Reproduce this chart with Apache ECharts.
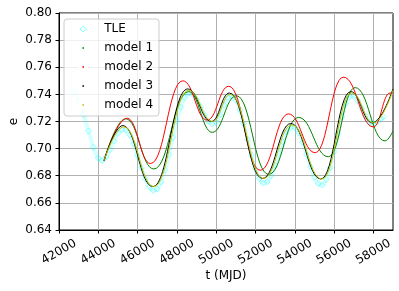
<!DOCTYPE html>
<html><head><meta charset="utf-8">
<script src="https://cdn.jsdelivr.net/npm/echarts@6/dist/echarts.min.js"></script>
<style>html,body{margin:0;padding:0;background:#fff}#c{width:399px;height:291px}</style>
</head><body><div id="c"></div>
<script>
const xTickLabels = [42000, 44000, 46000, 48000, 50000, 52000, 54000, 56000, 58000];
const yTickLabels = [0.64, 0.66, 0.68, 0.70, 0.72, 0.74, 0.76, 0.78, 0.80];

const tleT = [42750,43000,43250,43500,43750,44000,44200,44400,44600,44800,45000,45200,45400,45600,45800,46000,46200,46400,46600,46800,47000,47200,47400,47600,47800,48000,48200,48400,48600,48800,49000,49200,49400,49600,49800,50000,50200,50400,50600,50800,51000,51200,51400,51600,51800,52000,52200,52400,52600,52800,53000,53200,53400,53600,53800,54000,54200,54400,54600,54800,55000,55200,55400,55600,55800,56000,56200,56400,56600,56800,57000,57200,57400,57600,57800,58000,58200,58400,58500];
const tleE = [0.742,0.735,0.725,0.713,0.701,0.693,0.691,0.6938,0.6993,0.7057,0.7112,0.7139,0.7135,0.7100,0.7034,0.6949,0.6858,0.6777,0.6718,0.6691,0.6702,0.6755,0.6844,0.6957,0.7081,0.7202,0.7305,0.7376,0.7409,0.7401,0.7365,0.7310,0.7251,0.7204,0.7181,0.7194,0.7249,0.7321,0.7376,0.7389,0.7356,0.7285,0.7184,0.7068,0.6951,0.6850,0.6779,0.6746,0.6756,0.6802,0.6876,0.6964,0.7050,0.7118,0.7155,0.7155,0.7116,0.7046,0.6957,0.6866,0.6789,0.6741,0.6732,0.6772,0.6858,0.6977,0.7110,0.7235,0.7331,0.7383,0.7386,0.7354,0.7300,0.7241,0.7197,0.7180,0.7195,0.7222,0.7236];

// model curves: start point, then successive peaks / troughs, then end point
const m1T = [44290,45390,46825,48600,49800,51030,52670,54190,55710,57070,58590,59000];
const m1E = [0.691,0.722,0.685,0.742,0.712,0.739,0.681,0.723,0.694,0.745,0.7057,0.713];

const m2T = [44290,45470,46660,48300,49540,50640,52240,53680,55040,56475,58000,58850,59000];
const m2E = [0.691,0.7224,0.689,0.750,0.721,0.746,0.684,0.7256,0.697,0.7527,0.716,0.741,0.741];

const m3T = [44290,45250,46775,48550,49760,50670,52360,53800,55330,56850,57950,59000];
const m3E = [0.691,0.717,0.672,0.744,0.720,0.741,0.678,0.7185,0.6776,0.742,0.719,0.744];

const m4T = [44290,45300,46825,48600,49820,50720,52410,53850,55380,56900,58000,59000];
const m4E = [0.691,0.716,0.672,0.743,0.720,0.740,0.678,0.7175,0.6776,0.741,0.719,0.743];

const zip = (a, b) => a.map((v, i) => [v, b[i]]);
const FONT = 'DejaVu Sans';

const chart = echarts.init(document.getElementById('c'), null, {renderer: 'canvas'});
const modelLine = (name, T, E, color, z) => ({
  name, type: 'line', data: zip(T, E), smooth: 0.45, smoothMonotone: 'x', showSymbol: false, symbol: 'rect', symbolSize: 2,
  legendIcon: 'rect',
  lineStyle: {color, width: 1}, itemStyle: {color}, z, animation: false
});
const dotStyle = c => ({color: c, borderColor: '#ffffff', borderWidth: 4.4, opacity: 1});

chart.setOption({
  animation: false,
  grid: {left: 58, right: 6, top: 13, bottom: 61, show: true, borderColor: '#000', borderWidth: 1, containLabel: false},
  xAxis: {
    type: 'value', min: 42000, max: 59000, interval: 2000,
    name: 't (MJD)', nameLocation: 'middle', nameGap: 40, nameMoveOverlap: false,
    nameTextStyle: {fontFamily: FONT, fontSize: 12, color: '#000'},
    axisLine: {show: true, lineStyle: {color: '#000', width: 1}},
    axisTick: {show: true, inside: false, length: 3.5, lineStyle: {color: '#000'}, customValues: xTickLabels},
    axisLabel: {rotate: 30, align: 'center', verticalAlign: 'middle', margin: 22, fontFamily: FONT, fontSize: 12, color: '#000',
      customValues: xTickLabels, formatter: v => String(v)},
    splitLine: {show: true, lineStyle: {color: '#b0b0b0', width: 1}}
  },
  yAxis: {
    type: 'value', min: 0.64, max: 0.80, interval: 0.02,
    name: 'e', nameLocation: 'middle', nameGap: 39, nameMoveOverlap: false,
    nameTextStyle: {fontFamily: FONT, fontSize: 12, color: '#000'},
    axisLine: {show: true, lineStyle: {color: '#000', width: 1}},
    axisTick: {show: true, inside: false, length: 3.5, lineStyle: {color: '#000'}},
    axisLabel: {margin: 7, fontFamily: FONT, fontSize: 12, color: '#000', formatter: v => v.toFixed(2)},
    splitLine: {show: true, lineStyle: {color: '#b0b0b0', width: 1}}
  },
  legend: {
    orient: 'vertical', left: 64, top: 19, icon: 'rect',
    padding: [3, 6, 4, 14], itemGap: 5, itemWidth: 6, itemHeight: 6,
    backgroundColor: 'rgba(255,255,255,0.8)', borderColor: '#cccccc', borderWidth: 1, borderRadius: 3,
    textStyle: {fontFamily: FONT, fontSize: 12, color: '#000', lineHeight: 14, padding: [0, 0, 0, 13]},
    data: [
      {name: 'TLE', icon: 'diamond', itemStyle: {color: 'rgba(255,255,255,0)', borderColor: 'rgba(0,255,255,0.5)', borderWidth: 1}},
      {name: 'model 1', icon: 'rect', itemStyle: dotStyle('#008000')},
      {name: 'model 2', icon: 'rect', itemStyle: dotStyle('#ff0000')},
      {name: 'model 3', icon: 'rect', itemStyle: dotStyle('#000000')},
      {name: 'model 4', icon: 'rect', itemStyle: dotStyle('#bfbf00')}
    ]
  },
  series: [
    {
      name: 'TLE', type: 'line', data: zip(tleT, tleE), smooth: 0.5, legendIcon: 'diamond',
      symbol: 'diamond', symbolSize: 6, showSymbol: true, showAllSymbol: true,
      lineStyle: {color: 'rgba(0,255,255,0.16)', width: 4},
      itemStyle: {color: 'rgba(255,255,255,0)', borderColor: 'rgba(0,255,255,0.38)', borderWidth: 1},
      z: 1, animation: false
    },
    modelLine('model 1', m1T, m1E, '#008000', 2),
    modelLine('model 2', m2T, m2E, '#ff0000', 3),
    modelLine('model 3', m3T, m3E, '#000000', 4),
    modelLine('model 4', m4T, m4E, '#bfbf00', 5)
  ]
});
</script></body></html>
